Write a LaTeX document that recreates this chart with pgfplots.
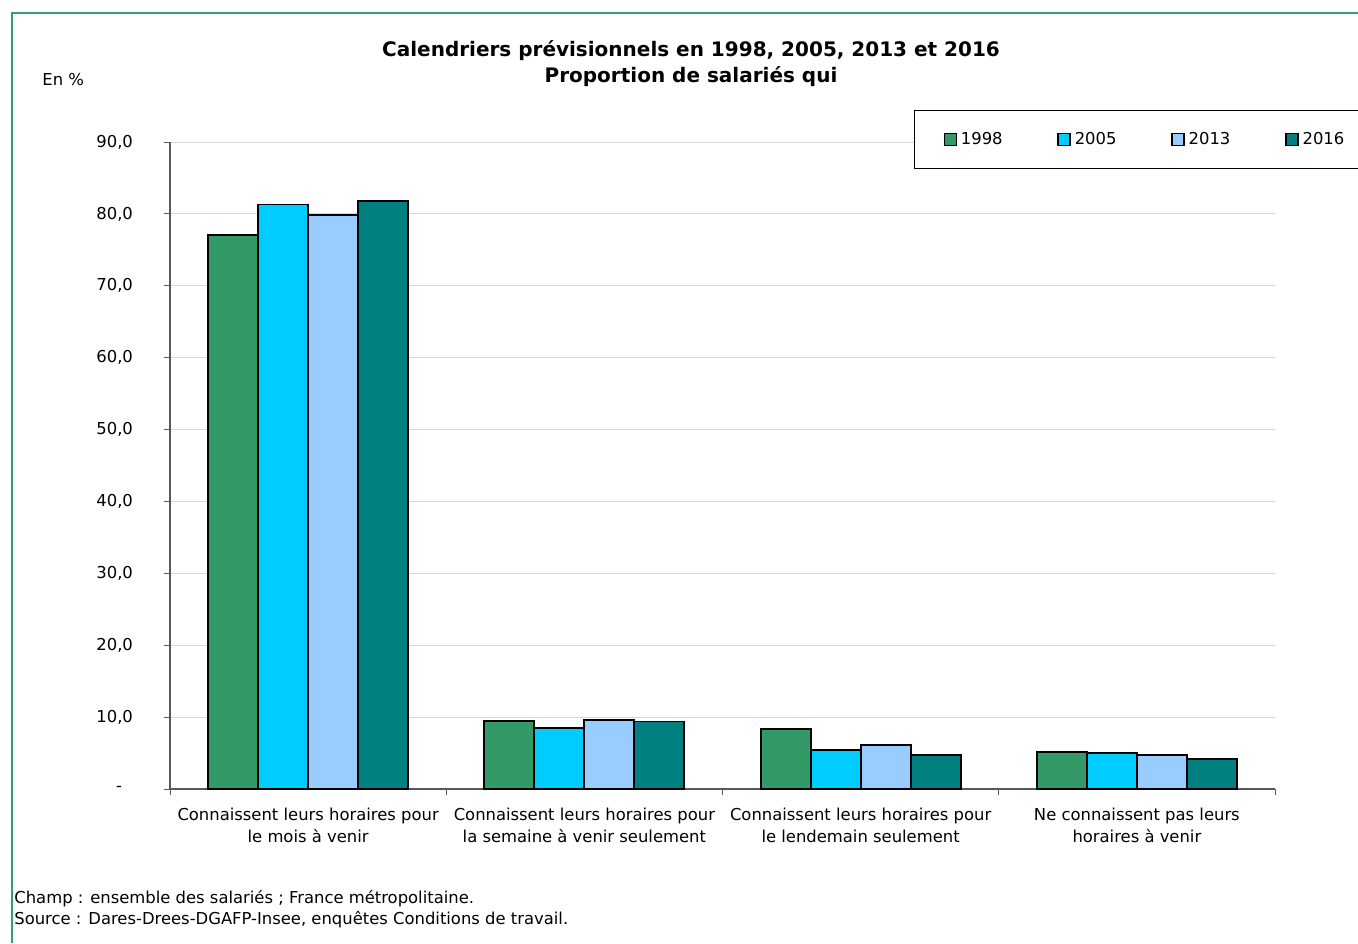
\documentclass[border=0pt]{standalone}
\usepackage{fontspec}
\setmainfont{DejaVu Sans}
\usepackage{pgfplots}
\pgfplotsset{compat=1.18}
\definecolor{cA}{HTML}{339966}
\definecolor{cB}{HTML}{00CCFF}
\definecolor{cC}{HTML}{99CCFF}
\definecolor{cD}{HTML}{008080}
\definecolor{frame}{HTML}{3A9E6C}
\begin{document}
\begin{tikzpicture}
\path[use as bounding box] (0pt,0pt) rectangle (679pt,-471.5pt);
\draw[frame,line width=1pt] (6pt,-471.5pt) -- (6pt,-6.5pt) -- (679pt,-6.5pt);
\node[align=center,font=\fontsize{10pt}{13pt}\selectfont\bfseries] at (345.5pt,-32pt)
  {Calendriers prévisionnels en 1998, 2005, 2013 et 2016\\Proportion de salariés qui};
\node[anchor=west,inner sep=0pt,font=\fontsize{8.2pt}{10pt}\selectfont] at (21pt,-40pt) {En \%};
\node[anchor=west,inner sep=0pt,font=\fontsize{8.2pt}{10pt}\selectfont] at (7pt,-449.5pt) {Champ : ensemble des salariés ; France métropolitaine.};
\node[anchor=west,inner sep=0pt,font=\fontsize{8.2pt}{10pt}\selectfont] at (7pt,-460pt) {Source : Dares-Drees-DGAFP-Insee, enquêtes Conditions de travail.};
\begin{axis}[
  at={(85pt,-394.5pt)}, anchor=south west,
  width=552.5pt, height=323.5pt, scale only axis,
  ybar=0pt, bar width=25pt,
  xmin=-0.5, xmax=3.5, ymin=0, ymax=90,
  enlargelimits=false,
  axis x line*=bottom, axis y line*=left,
  axis line style={gray!70!black, line width=0.6pt, -},
  ytick={0,10,...,90},
  yticklabels={{-\kern5.5pt},{10,0},{20,0},{30,0},{40,0},{50,0},{60,0},{70,0},{80,0},{90,0}},
  ymajorgrids, grid style={gray!30, line width=0.5pt},
  tick align=outside, major tick length=3pt,
  tick style={gray!70!black, line width=0.5pt},
  xtick={0,1,2,3},
  major x tick style={draw=none},
  xticklabels={{Connaissent leurs horaires pour\\le mois à venir},
               {Connaissent leurs horaires pour\\la semaine à venir seulement},
               {Connaissent leurs horaires pour\\le lendemain seulement},
               {Ne connaissent pas leurs\\horaires à venir}},
  xticklabel style={align=center, font=\fontsize{8.2pt}{11pt}\selectfont, yshift=-3pt},
  yticklabel style={font=\fontsize{8.2pt}{10pt}\selectfont, xshift=-12pt},
  extra x ticks={-0.5,0.5,1.5,2.5,3.5},
  extra x tick labels={,,,,},
  extra x tick style={grid=none, major tick length=3pt, tick align=outside, major x tick style={draw=gray!70!black}},
  every axis plot/.append style={draw=black, line width=0.9pt},
  legend columns=4,
  legend image code/.code={\draw[#1,line width=0.7pt] (0pt,-3pt) rectangle (6pt,3pt);},
  legend style={at={(0.6733,1.0495)}, anchor=north west, draw=black, line width=0.5pt,
    font=\fontsize{8.2pt}{10pt}\selectfont, inner xsep=14.5pt, inner ysep=8.75pt},
]
\addplot[fill=cA] coordinates {(0,77.1) (1,9.5) (2,8.4) (3,5.2)};
\addlegendentry{\makebox[46.25pt][l]{1998}}
\addplot[fill=cB] coordinates {(0,81.3) (1,8.5) (2,5.4) (3,5.0)};
\addlegendentry{\makebox[46.25pt][l]{2005}}
\addplot[fill=cC] coordinates {(0,79.9) (1,9.6) (2,6.1) (3,4.7)};
\addlegendentry{\makebox[46.25pt][l]{2013}}
\addplot[fill=cD] coordinates {(0,81.8) (1,9.4) (2,4.7) (3,4.2)};
\addlegendentry{\makebox[46.25pt][l]{2016}}
\end{axis}
\end{tikzpicture}
\end{document}
